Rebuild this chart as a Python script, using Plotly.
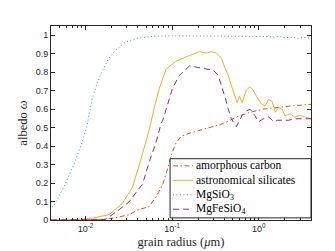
import plotly.graph_objects as go
import numpy as np

# ---- data ----
carbon_r = [0.004, 0.015, 0.022, 0.032, 0.04, 0.054, 0.065, 0.078, 0.089, 0.097, 0.111, 0.127,
            0.159, 0.217, 0.295, 0.39, 0.55, 0.79, 1.13, 1.63, 2.3, 4.0]
carbon_w = [0.0, 0.002, 0.012, 0.029, 0.055, 0.072, 0.124, 0.194, 0.28, 0.349, 0.418, 0.453,
            0.47, 0.488, 0.505, 0.522, 0.557, 0.583, 0.6, 0.609, 0.617, 0.626]

astro_r = [0.004, 0.008, 0.012, 0.0187, 0.0266, 0.0348, 0.0417, 0.0544, 0.0623, 0.0711, 0.0852,
           0.111, 0.159, 0.208, 0.248, 0.284, 0.325, 0.37, 0.405, 0.444, 0.48, 0.53, 0.56, 0.6,
           0.64, 0.72, 0.79, 0.86, 0.94, 1.08, 1.18, 1.29, 1.42, 1.55, 1.7, 1.86, 2.0, 2.3, 2.6,
           3.0, 3.4, 4.0]
astro_w = [0.0, 0.002, 0.01, 0.029, 0.09, 0.176, 0.297, 0.488, 0.609, 0.713, 0.817,
           0.86, 0.89, 0.912, 0.903, 0.912, 0.903, 0.877, 0.825, 0.782, 0.73, 0.661, 0.635, 0.669,
           0.635, 0.704, 0.721, 0.704, 0.669, 0.626, 0.617, 0.652, 0.643, 0.583, 0.609, 0.6, 0.565,
           0.574, 0.557, 0.565, 0.557, 0.548]

mgsio3_r = [0.0041, 0.0043, 0.0056, 0.0073, 0.0091, 0.0104, 0.0119, 0.0136, 0.0156, 0.0187,
            0.0223, 0.0292, 0.0398, 0.06, 0.1, 0.3, 1.0, 1.3, 1.5, 1.7, 2.0, 2.4, 2.8, 3.3, 4.0]
mgsio3_w = [0.07, 0.076, 0.176, 0.297, 0.418, 0.51, 0.652, 0.739, 0.808, 0.877,
            0.92, 0.964, 0.984, 0.994, 0.997, 0.997, 0.996, 0.993, 0.99, 0.994, 0.986, 0.99,
            0.984, 0.988, 0.985]

mgfe_r = [0.004, 0.012, 0.017, 0.0244, 0.0318, 0.0398, 0.0455, 0.0544, 0.065, 0.0745, 0.078,
          0.101, 0.121, 0.159, 0.198, 0.26, 0.30, 0.34, 0.37, 0.41, 0.444, 0.48, 0.55, 0.6,
          0.64, 0.72, 0.79, 0.9, 0.99, 1.13, 1.3, 1.5, 1.65, 1.86, 2.2, 2.6, 3.3, 4.0]
mgfe_w = [0.0, 0.0, 0.003, 0.055, 0.098, 0.159, 0.194, 0.315, 0.418, 0.522, 0.54,
          0.713, 0.782, 0.834, 0.825, 0.817, 0.81, 0.782, 0.73, 0.661, 0.6, 0.55, 0.505, 0.54,
          0.565, 0.59, 0.6, 0.565, 0.531, 0.548, 0.557, 0.531, 0.54, 0.54, 0.54, 0.548, 0.548,
          0.548]

series_names = ["amorphous carbon", "astronomical silicates", "MgSiO<sub>3</sub>",
                "MgFeSiO<sub>4</sub>"]

x_tickvals = [0.01, 0.1, 1]
x_ticktext = ["10<sup>-2</sup>", "10<sup>-1</sup>", "10<sup>0</sup>"]
y_tickvals = [round(0.1 * i, 1) for i in range(11)]
y_ticktext = ["0", "0.1", "0.2", "0.3", "0.4", "0.5", "0.6", "0.7", "0.8", "0.9", "1"]

minor_vals = [m * 10.0 ** e for e in (-3, -2, -1, 0) for m in range(2, 10)]

AX = "#262626"
SERIF = "Liberation Serif"
SANS = "Liberation Sans"

styles = [
    dict(color="#D95319", width=1, dash="5px,2.5px,1.5px,2.5px"),
    dict(color="#EDB120", width=1),
    dict(color="#2D8FD5", width=1, dash="1px,2.5px"),
    dict(color="#7E2F8E", width=1, dash="6px,4px"),
]
data = [(carbon_r, carbon_w), (astro_r, astro_w), (mgsio3_r, mgsio3_w), (mgfe_r, mgfe_w)]

fig = go.Figure()
for (r, w), name, st in zip(data, series_names, styles):
    fig.add_trace(go.Scatter(x=r, y=w, mode="lines", name=name, line=st, showlegend=False))

# ---- legend box drawn in paper coordinates (MATLAB-style compact legend) ----
shapes = [dict(type="rect", xref="paper", yref="paper", x0=0.458, x1=1.0, y0=0.011, y1=0.316,
               line=dict(color=AX, width=1), fillcolor="white", layer="above")]
annotations = []
row_y = [0.279, 0.2045, 0.130, 0.0555]
for yy, name, st in zip(row_y, series_names, styles):
    shapes.append(dict(type="line", xref="paper", yref="paper", x0=0.469, x1=0.546,
                       y0=yy, y1=yy, line=st, layer="above"))
    annotations.append(dict(xref="paper", yref="paper", x=0.552, y=yy, xanchor="left",
                            yanchor="middle", text=name, showarrow=False, borderpad=0,
                            font=dict(family=SERIF, size=11.5, color="black")))

fig.update_layout(
    width=335, height=251,
    margin=dict(l=43, r=32, t=18, b=31),
    paper_bgcolor="white", plot_bgcolor="white",
    showlegend=False,
    shapes=shapes, annotations=annotations,
    xaxis=dict(type="log", range=[np.log10(0.004), np.log10(4.0)],
               tickmode="array", tickvals=x_tickvals, ticktext=x_ticktext,
               ticks="inside", ticklen=4, tickwidth=0.6, tickcolor=AX,
               minor=dict(tickmode="array", tickvals=minor_vals, ticks="inside",
                          ticklen=2, tickwidth=0.6, tickcolor=AX),
               showline=True, linecolor=AX, linewidth=1, mirror="ticks",
               showgrid=False, zeroline=False,
               tickfont=dict(family=SANS, size=9, color=AX),
               title=dict(text="grain radius (<i>μ</i>m)", standoff=4,
                          font=dict(family=SERIF, size=12.5, color=AX))),
    yaxis=dict(range=[0, 1.05], tickmode="array", tickvals=y_tickvals, ticktext=y_ticktext,
               ticks="inside", ticklen=4, tickwidth=0.6, tickcolor=AX,
               showline=True, linecolor=AX, linewidth=1, mirror="ticks",
               showgrid=False, zeroline=False,
               tickfont=dict(family=SANS, size=9, color=AX),
               title=dict(text="albedo <i>ω</i>", standoff=5,
                          font=dict(family=SERIF, size=12.5, color=AX))),
)

fig.write_html("out.html")
